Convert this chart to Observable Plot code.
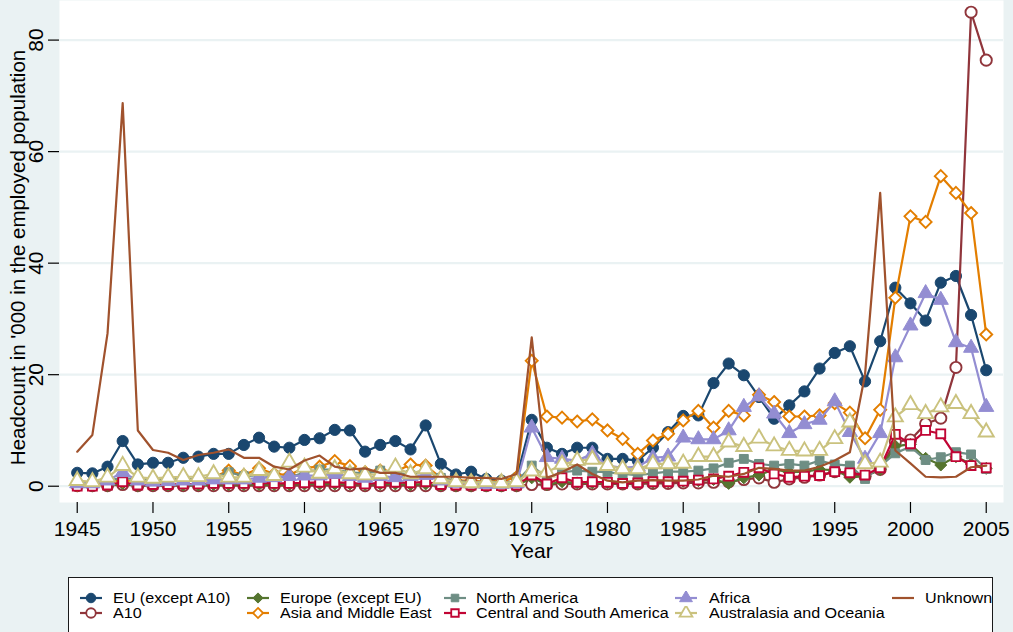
<!DOCTYPE html>
<html><head><meta charset="utf-8">
<script src="https://cdn.jsdelivr.net/npm/d3@7"></script>
<script src="https://cdn.jsdelivr.net/npm/@observablehq/plot@0.6"></script>
<style>
html,body{margin:0;padding:0;background:#eaf2f3;width:1013px;height:632px;overflow:hidden;font-family:"Liberation Sans",Arial,sans-serif;}
#chart{position:absolute;left:0;top:0;}
#legend{position:absolute;left:68px;top:577px;width:925px;height:90px;background:#fff;border:1px solid #1a1a1a;box-sizing:border-box;}
.key{position:absolute;}
.lab{position:absolute;font-size:15.5px;line-height:15px;color:#000;white-space:nowrap;transform:scaleX(1.04);transform-origin:left center;}
</style></head><body>
<div id="chart"></div><div id="legend"></div>
<script>
const years = [1945,1946,1947,1948,1949,1950,1951,1952,1953,1954,1955,1956,1957,1958,1959,1960,1961,1962,1963,1964,1965,1966,1967,1968,1969,1970,1971,1972,1973,1974,1975,1976,1977,1978,1979,1980,1981,1982,1983,1984,1985,1986,1987,1988,1989,1990,1991,1992,1993,1994,1995,1996,1997,1998,1999,2000,2001,2002,2003,2004,2005];

const euExA10 = [2.4,2.3,3.5,8.1,3.9,4.2,4.2,5.1,5.3,5.8,
5.8,7.4,8.7,7.1,6.9,8.3,8.6,10.1,10.0,6.2,
7.4,8.1,6.6,10.9,4.0,2.1,2.6,1.3,1.0,1.5,
11.9,6.9,5.8,6.9,6.9,4.9,4.9,4.6,6.9,9.7,
12.6,12.7,18.5,22.0,19.9,16.0,12.1,14.5,17.0,21.1,
23.9,25.1,18.8,26.0,35.6,32.8,29.7,36.5,37.7,30.7,
20.8];
const a10 = [0.1,0.1,0.1,0.3,0.1,0.1,0.1,0.1,0.1,0.1,
0.1,0.1,0.1,0.1,0.1,0.1,0.1,0.1,0.1,0.1,
0.1,0.1,0.1,0.1,0.1,0.1,0.1,0.1,0.1,0.1,
0.3,0.3,0.4,0.4,0.4,0.4,0.4,0.4,0.5,0.5,
0.6,0.6,0.7,0.8,1.2,1.5,0.7,1.3,1.6,2.0,
2.6,2.2,1.8,3.0,8.0,8.3,11.2,12.2,21.3,85.0,
76.4];
const europeExEU = [0.1,0.1,0.1,0.5,0.1,0.2,0.2,0.2,0.2,0.3,
0.3,0.3,0.3,0.3,0.3,0.4,0.4,0.4,0.4,0.3,
0.4,0.4,0.3,0.4,0.2,0.1,0.1,0.1,0.1,0.1,
1.5,0.3,0.8,0.6,0.6,0.6,0.5,0.5,0.7,0.8,
0.9,1.0,1.2,0.5,1.5,2.0,3.0,2.5,2.6,3.0,
2.9,1.6,1.8,3.0,7.2,7.5,5.0,3.8,5.3,4.0,
3.2];
const asiaME = [0.3,0.4,0.6,1.0,0.7,0.8,1.0,1.2,1.3,1.6,
2.8,2.0,3.2,2.2,2.0,3.3,3.5,4.5,3.6,2.5,
2.8,2.6,3.9,3.7,1.5,1.0,1.0,0.8,0.9,1.6,
22.5,12.5,12.3,11.6,12.0,10.0,8.5,5.8,8.2,9.4,
11.8,13.5,10.5,13.5,12.7,16.4,15.1,12.5,12.5,12.7,
14.9,13.2,8.6,13.7,33.8,48.4,47.4,55.6,52.6,49.0,
27.2];
const northAmerica = [0.5,0.5,1.0,1.5,1.2,1.0,1.2,1.3,1.3,1.6,
2.5,1.8,2.0,1.8,1.5,2.5,3.0,3.0,2.5,2.3,
2.8,2.5,2.0,2.8,1.5,0.9,0.8,0.8,0.7,0.8,
3.7,1.5,2.5,2.8,2.6,2.5,2.2,2.0,2.3,2.6,
2.6,2.8,3.2,4.2,4.9,4.0,3.7,4.0,3.7,4.6,
3.9,3.7,1.3,3.6,5.9,7.1,4.7,5.2,6.1,5.7,
3.1];
const centralSouthAmerica = [0.0,0.0,0.2,0.8,0.2,0.3,0.3,0.4,0.4,0.5,
0.5,0.5,0.6,0.5,0.5,0.6,0.7,0.7,0.6,0.4,
0.6,0.7,0.6,0.8,0.3,0.2,0.2,0.1,0.1,0.2,
2.0,0.4,1.5,0.7,0.8,0.7,0.5,0.6,0.8,0.8,
0.9,1.1,1.3,1.8,2.5,3.3,2.2,1.6,1.8,1.9,
2.6,2.4,2.0,3.3,9.3,7.6,10.0,9.4,5.3,3.7,
3.3];
const africa = [0.5,0.5,1.0,2.5,1.0,0.8,0.9,1.0,1.0,1.2,
1.2,1.2,1.5,1.6,1.8,1.9,1.9,2.2,1.8,1.5,
1.8,1.6,1.8,2.0,1.0,0.6,0.5,0.4,0.4,0.5,
10.5,5.2,4.9,4.6,5.8,3.7,3.3,3.5,5.1,5.3,
8.7,8.4,8.4,10.0,14.2,16.1,13.0,9.5,11.1,11.9,
15.2,9.7,4.9,9.5,23.1,28.8,34.6,33.4,25.8,24.8,
14.2];
const australasia = [1.0,0.8,1.6,3.7,1.6,1.4,1.6,1.7,1.7,2.2,
1.6,1.6,2.8,1.9,4.3,3.4,2.3,3.1,2.2,2.0,
2.2,3.4,2.2,3.1,1.3,0.8,0.6,0.8,0.6,0.8,
2.7,2.5,3.9,4.6,4.8,3.7,3.1,3.1,4.0,4.0,
4.1,5.3,5.3,7.9,7.1,8.6,7.2,6.4,6.3,6.4,
8.5,11.5,4.0,4.3,12.4,14.6,13.0,14.2,14.8,13.0,
9.7];
const unknown = [6.2,9.2,27.4,68.7,10.0,6.5,6.0,4.7,5.6,6.0,
6.6,5.1,5.1,3.5,3.0,4.6,5.5,3.5,3.0,3.2,
2.4,2.4,1.7,1.7,1.7,1.7,1.5,1.5,1.3,2.2,
26.7,1.5,2.5,3.9,2.2,1.0,0.7,1.0,1.1,1.0,
1.0,1.2,1.9,1.7,2.2,3.3,3.1,2.8,2.8,3.5,
4.6,6.1,20.0,52.6,6.4,4.1,1.7,1.6,1.7,3.4,
3.7];

const seriesNames = ["EU (except A10)","A10","Europe (except EU)","Asia and Middle East","North America","Central and South America","Africa","Australasia and Oceania","Unknown"];
const seriesValues = [euExA10,a10,europeExEU,asiaME,northAmerica,centralSouthAmerica,africa,australasia,unknown];
const seriesColors = ["#1a476f","#90353b","#55752f","#e37e00","#6e8e84","#c10534","#938dd2","#cac27e","#a0522d"];
const seriesSymbols = ["circle","circle","diamond2","diamond2","square","square","triangle","triangle",null];
const seriesHollow = [false,true,false,true,false,true,false,true,false];
const yTicks = [0,20,40,60,80];
const xTicks = [1945,1950,1955,1960,1965,1970,1975,1980,1985,1990,1995,2000,2005];
const xLabel = "Year";
const yLabel = "Headcount in '000 in the employed population";

const rows = seriesNames.map((name,i)=>years.map((year,j)=>({series:name,year,value:seriesValues[i][j]})));
const symbolR = {circle:5.6, diamond2:5.4, square:5.0, triangle:5.6};

const seriesMarks = rows.flatMap((data,i)=>{
  const m = [Plot.line(data,{x:"year",y:"value",stroke:seriesColors[i],strokeWidth:2.2})];
  const s = seriesSymbols[i];
  if (s) m.push(Plot.dot(data,{x:"year",y:"value",symbol:s,r:symbolR[s],
    fill:seriesHollow[i]?"white":seriesColors[i],stroke:seriesColors[i],
    strokeWidth:seriesHollow[i]?1.9:1}));
  return m;
});

const chart = Plot.plot({
  width:1013, height:577,
  marginLeft:59, marginRight:10, marginTop:0, marginBottom:75,
  style:{background:"#eaf2f3",fontFamily:"'Liberation Sans',Arial,sans-serif",fontSize:"21px",color:"#000",overflow:"visible"},
  x:{domain:[1943.83,2006.14]},
  y:{domain:[-2.92,87.1]},
  marks:[
    Plot.frame({fill:"white",stroke:"none"}),
    Plot.gridY(yTicks,{stroke:"#eaf2f3",strokeOpacity:1,strokeWidth:2.2}),
    ...seriesMarks,
    Plot.axisY(yTicks,{tickRotate:-90,tickSize:11,tickPadding:6,line:true,stroke:"#000",strokeOpacity:1,strokeWidth:1.2,label:null,tickFormat:d=>String(d),fontSize:21}),
    Plot.axisX(xTicks,{tickSize:11,tickPadding:8,line:true,stroke:"#000",strokeOpacity:1,strokeWidth:1.2,label:null,tickFormat:d=>String(d),fontSize:21}),
    Plot.text([xLabel],{text:d=>d,frameAnchor:"bottom",lineAnchor:"middle",textAnchor:"middle",dy:49,fontSize:21}),
    Plot.text([yLabel],{text:d=>d,frameAnchor:"left",lineAnchor:"middle",textAnchor:"middle",dx:-41,dy:6,rotate:-90,fontSize:20.5})
  ]
});
document.getElementById("chart").appendChild(chart);

// legend (2 rows, column-major)
const legend = d3.select("#legend");
const keyStarts = [78,245,442,673,890];
const textStarts = [113,280,476,709,925];
const rowCenters = [21,36];
const symMap = {circle:d3.symbolCircle,diamond2:d3.symbolDiamond2,square:d3.symbolSquare,triangle:d3.symbolTriangle};
seriesNames.forEach((name,i)=>{
  const col = Math.floor(i/2), row = i%2;
  const cy = rowCenters[row]-1;
  const svg = legend.append("svg").attr("class","key").attr("width",26).attr("height",14)
    .style("left",(keyStarts[col]-69)+"px").style("top",(cy-7)+"px");
  svg.append("line").attr("x1",2).attr("x2",24).attr("y1",7).attr("y2",7)
    .attr("stroke",seriesColors[i]).attr("stroke-width",2.2);
  const s = seriesSymbols[i];
  if (s) {
    const r = symbolR[s]*0.85;
    svg.append("path").attr("transform","translate(13,7)")
      .attr("d",d3.symbol(symMap[s],Math.PI*r*r)())
      .attr("fill",seriesHollow[i]?"white":seriesColors[i])
      .attr("stroke",seriesColors[i]).attr("stroke-width",seriesHollow[i]?1.8:1);
  }
  legend.append("div").attr("class","lab").text(name)
    .style("left",(textStarts[col]-69)+"px").style("top",(cy-8)+"px");
});
</script>
</body></html>
